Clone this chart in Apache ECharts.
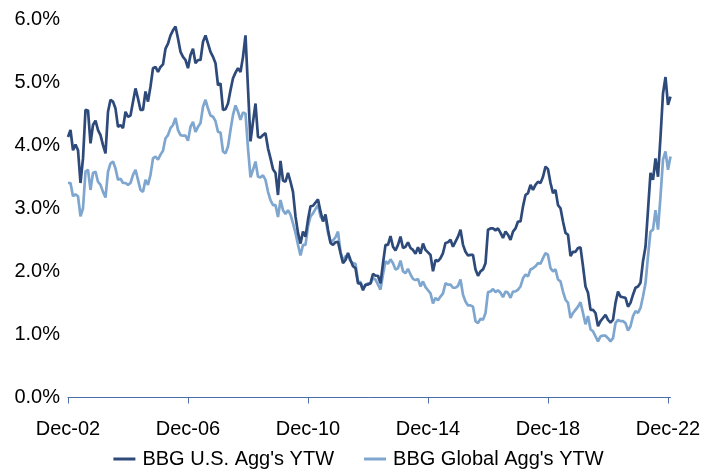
<!DOCTYPE html>
<html>
<head>
<meta charset="utf-8">
<script src="https://cdn.jsdelivr.net/npm/echarts@6/dist/echarts.min.js"></script>
<style>
html,body{margin:0;padding:0;background:#fff;}
#chart{width:717px;height:470px;}
</style>
</head>
<body>
<div id="chart"></div>
<script>
// Monthly, Dec-02 .. Jan-23
var startYear = 2002, startMonth = 11; // December
var monthNames = ['Jan','Feb','Mar','Apr','May','Jun','Jul','Aug','Sep','Oct','Nov','Dec'];

var usAggYTW = [
 4.13,4.24,3.92,4.01,3.92,3.40,3.79,4.56,4.55,4.03,
 4.32,4.39,4.24,4.16,4.00,3.87,4.53,4.72,4.69,4.58,
 4.29,4.32,4.27,4.53,4.45,4.47,4.69,4.90,4.74,4.56,
 4.56,4.85,4.69,4.93,5.22,5.24,5.16,5.24,5.28,5.53,
 5.61,5.74,5.82,5.88,5.69,5.48,5.40,5.35,5.22,5.43,
 5.53,5.30,5.35,5.35,5.64,5.74,5.61,5.48,5.40,5.30,
 4.95,4.98,4.56,4.57,4.66,4.87,5.06,5.15,5.22,5.16,
 5.40,5.74,4.90,4.06,4.37,4.66,4.13,4.12,4.16,4.19,
 3.95,3.79,3.62,3.56,
 3.21,3.75,3.44,3.42,3.56,3.42,3.26,2.87,2.61,2.44,
 2.63,2.55,2.82,3.03,3.04,3.09,3.14,2.95,2.79,2.90,
 2.66,2.45,2.42,2.46,2.47,2.29,2.13,2.18,2.29,2.18,
 2.08,2.05,1.81,1.81,1.70,1.79,1.79,1.81,1.96,1.93,
 1.93,1.81,
 2.13,2.42,2.42,2.56,2.39,2.33,2.42,2.55,2.37,2.39,
 2.46,2.37,2.34,2.28,2.38,2.28,2.44,2.34,2.30,2.26,
 2.00,2.18,2.16,2.21,2.29,2.45,2.46,2.50,2.39,2.47,
 2.55,2.66,2.42,2.31,2.25,2.26,2.26,2.03,1.93,2.00,
 2.03,2.13,
 2.66,2.68,2.68,2.65,2.68,2.61,2.53,2.63,2.58,2.50,
 2.63,2.68,2.79,2.79,3.03,3.21,3.24,3.37,3.29,3.37,
 3.42,3.40,3.50,3.66,3.62,3.40,3.24,3.29,3.05,3.00,
 2.79,2.61,2.58,2.24,2.31,2.31,2.37,2.38,2.08,1.76,
 1.66,1.39,
 1.39,1.34,1.13,1.21,1.26,1.31,1.23,1.19,1.23,1.50,
 1.68,1.60,1.59,1.58,1.44,1.50,1.63,1.74,1.76,1.82,
 2.16,2.39,2.97,3.56,3.45,3.79,3.50,4.13,4.82,5.08,
 4.64,4.77
];

var globalAggYTW = [
 3.40,3.40,3.19,3.22,3.19,2.87,3.00,3.58,3.61,3.29,
 3.56,3.58,3.42,3.37,3.26,3.17,3.58,3.71,3.74,3.63,
 3.45,3.47,3.40,3.40,3.37,3.40,3.53,3.61,3.45,3.29,
 3.26,3.45,3.37,3.53,3.79,3.82,3.77,3.85,3.91,4.11,
 4.16,4.27,4.32,4.43,4.24,4.16,4.15,4.15,4.07,4.29,
 4.37,4.21,4.29,4.35,4.61,4.72,4.58,4.47,4.45,4.38,
 4.21,4.20,3.90,3.87,3.98,4.24,4.48,4.63,4.53,4.40,
 4.52,4.50,3.95,3.49,3.61,3.74,3.50,3.49,3.52,3.45,
 3.26,3.13,3.05,3.05,
 2.86,3.13,2.97,2.91,2.97,2.90,2.76,2.61,2.42,2.25,
 2.42,2.42,2.71,2.87,2.92,2.99,3.05,2.87,2.81,2.84,
 2.61,2.47,2.49,2.54,2.63,2.31,2.16,2.24,2.25,2.16,
 2.13,2.12,1.84,1.83,1.74,1.77,1.81,1.81,1.89,1.87,
 1.79,1.71,
 1.95,2.16,2.12,2.19,2.13,2.03,2.05,2.17,2.00,1.97,
 2.04,1.95,1.88,1.86,1.88,1.76,1.84,1.75,1.70,1.65,
 1.49,1.58,1.54,1.60,1.65,1.81,1.79,1.79,1.74,1.74,
 1.77,1.87,1.63,1.52,1.46,1.46,1.44,1.21,1.18,1.25,
 1.23,1.34,
 1.67,1.68,1.72,1.67,1.70,1.66,1.59,1.68,1.66,1.58,
 1.68,1.68,1.71,1.76,1.89,1.95,1.92,2.03,2.05,2.08,
 2.13,2.12,2.21,2.29,2.26,2.05,2.00,2.03,1.87,1.84,
 1.68,1.55,1.50,1.26,1.34,1.39,1.44,1.51,1.34,1.16,
 1.29,1.08,
 1.05,0.97,0.89,0.97,0.98,0.98,0.94,0.89,0.94,1.18,
 1.23,1.21,1.21,1.18,1.06,1.13,1.29,1.37,1.34,1.42,
 1.60,1.81,2.24,2.63,2.66,2.97,2.66,3.19,3.77,3.90,
 3.61,3.82
];

var seriesNames = ["BBG U.S. Agg's YTW", "BBG Global Agg's YTW"];
var yTicks = [0, 1, 2, 3, 4, 5, 6];

var categories = [];
for (var k = 0; k < usAggYTW.length; k++) {
  var m = startMonth + k;
  var y = startYear + Math.floor(m / 12);
  categories.push(monthNames[m % 12] + '-' + String(y % 100).padStart(2, '0'));
}

var FONT = '"Liberation Sans", Arial, sans-serif';
var chart = echarts.init(document.getElementById('chart'), null, {renderer: 'canvas'});
chart.setOption({
  animation: false,
  backgroundColor: '#fff',
  grid: {left: 68, right: 46.5, top: 19, bottom: 72.5, containLabel: false},
  xAxis: {
    type: 'category',
    data: categories,
    boundaryGap: false,
    offset: 4,
    axisLine: {show: true, lineStyle: {color: '#4B6EA8', width: 1}},
    axisTick: {show: true, interval: 47, length: 6, lineStyle: {color: '#4B6EA8', width: 1}},
    axisLabel: {interval: 47, margin: 18, color: '#000', fontSize: 20, fontFamily: FONT},
    splitLine: {show: false}
  },
  yAxis: {
    type: 'value',
    min: yTicks[0],
    max: yTicks[yTicks.length - 1],
    interval: 1,
    axisLine: {show: false},
    axisTick: {show: false},
    splitLine: {show: false},
    axisLabel: {
      margin: 8, color: '#000', fontSize: 20, fontFamily: FONT,
      formatter: function (v) { return v.toFixed(1) + '%'; }
    }
  },
  legend: {
    bottom: -4,
    left: 'center',
    itemGap: 30,
    itemWidth: 22,
    itemHeight: 3,
    icon: 'rect',
    textStyle: {color: '#000', fontSize: 20, fontFamily: FONT, padding: [0, 0, 0, 2]},
    data: seriesNames
  },
  series: [
    {
      name: seriesNames[0], type: 'line', data: usAggYTW,
      showSymbol: false, symbol: 'none', smooth: false,
      lineStyle: {color: '#2E4A7A', width: 2.7}, itemStyle: {color: '#2E4A7A'}, z: 3
    },
    {
      name: seriesNames[1], type: 'line', data: globalAggYTW,
      showSymbol: false, symbol: 'none', smooth: false,
      lineStyle: {color: '#7FA6CF', width: 2.7}, itemStyle: {color: '#7FA6CF'}, z: 2
    }
  ]
});
</script>
</body>
</html>
